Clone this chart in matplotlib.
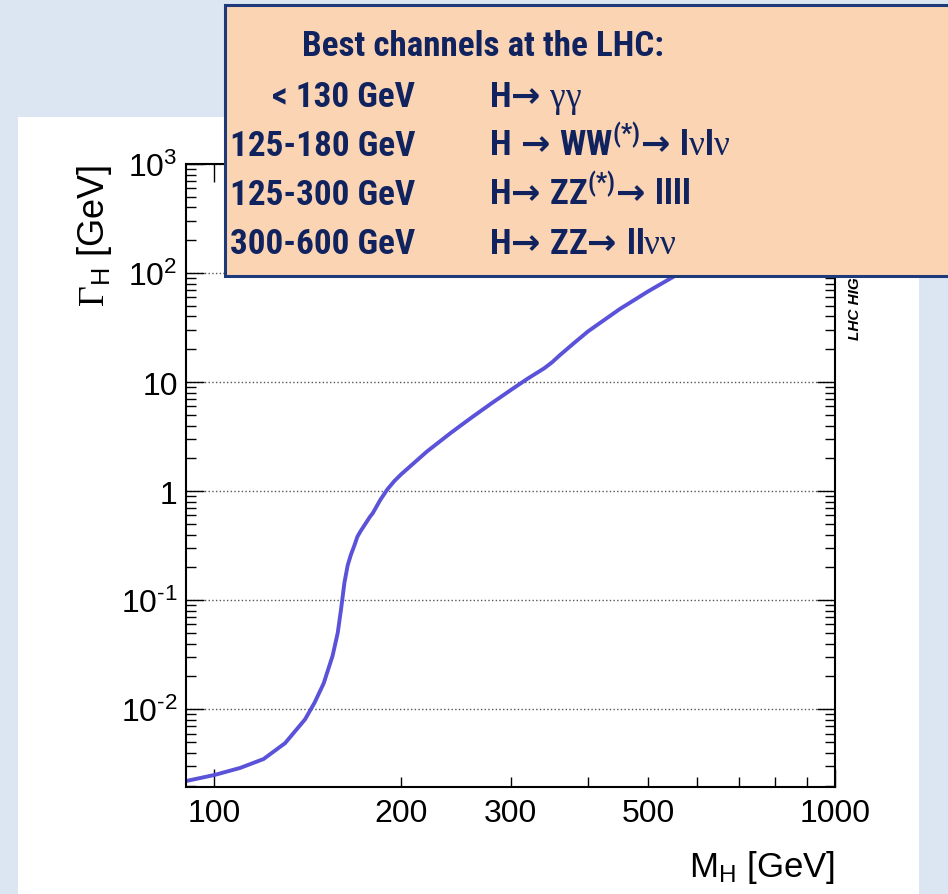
import matplotlib
matplotlib.use("Agg")
import matplotlib.pyplot as plt
from matplotlib import font_manager
from matplotlib.patches import Rectangle
from matplotlib.ticker import FixedLocator, FuncFormatter, LogLocator, NullFormatter

mass = [90, 100, 110, 120, 130, 140, 145, 150, 155, 158, 160, 162, 164, 166, 168, 170,
        172, 175, 178, 180, 185, 190, 195, 200, 220, 240, 250, 260, 280, 300, 320, 340,
        350, 360, 380, 400, 450, 500, 550, 600, 650, 700, 750, 800, 850, 900, 950, 1000]
width = [2.2e-3, 2.5e-3, 2.9e-3, 3.5e-3, 4.9e-3, 8.1e-3, 1.15e-2, 1.73e-2, 3.08e-2, 5.0e-2,
         8.3e-2, 1.45e-1, 2.1e-1, 2.63e-1, 3.15e-1, 3.83e-1,
         0.43, 0.50, 0.58, 0.63, 0.83, 1.04, 1.24, 1.43, 2.31, 3.40, 4.04, 4.76, 6.43, 8.43,
         10.8, 13.4, 15.2, 17.6, 22.9, 29.2, 46.8, 68.0, 93.0, 123, 158, 199, 247, 304, 370,
         449, 540, 647]

x_major = [100, 1000]
x_minor = [200, 300, 400, 500, 600, 700, 800, 900]
x_minor_labels = {200: "200", 300: "300", 500: "500"}
y_labels = {1e-2: "$\\mathregular{10^{\u20102}}$", 1e-1: "$\\mathregular{10^{\u20101}}$",
            1: "1", 10: "10", 1e2: r"$\mathregular{10^{2}}$", 1e3: r"$\mathregular{10^{3}}$"}

box_title = "Best channels at the LHC:"
box_ranges = ["< 130 GeV", "125-180 GeV", "125-300 GeV", "300-600 GeV"]
box_channels = [r"$\mathbf{H}\mathcal{→}\ \mathsf{\gamma\gamma}$",
                r"$\mathbf{H}\ \mathcal{→}\ \mathbf{WW^{(*)}}\mathcal{→}\ \mathbf{l}\mathsf{\nu}\mathbf{l}\mathsf{\nu}$",
                r"$\mathbf{H}\mathcal{→}\ \mathbf{ZZ^{(*)}}\mathcal{→}\ \mathbf{llll}$",
                r"$\mathbf{H}\mathcal{→}\ \mathbf{ZZ}\mathcal{→}\ \mathbf{ll}\mathsf{\nu\nu}$"]

# a narrow bold face for the box, like the Arial Narrow of the slide
bold_faces = {f.name for f in font_manager.fontManager.ttflist
              if f.weight in (700, "bold") and f.style == "normal"}
box_font = "Liberation Sans"
for cand in ["Liberation Sans Narrow", "Roboto Condensed", "PT Sans Narrow",
             "Open Sans Condensed", "Asap Condensed", "Barlow Semi Condensed"]:
    if cand in bold_faces:
        box_font = cand
        break

plt.rcParams["font.family"] = ["Liberation Sans", "DejaVu Sans"]
plt.rcParams["mathtext.fontset"] = "custom"
plt.rcParams["mathtext.rm"] = "Liberation Sans"
plt.rcParams["mathtext.it"] = "Liberation Sans:italic"
plt.rcParams["mathtext.bf"] = box_font + ":bold"
plt.rcParams["mathtext.sf"] = "Liberation Serif"
plt.rcParams["mathtext.cal"] = "DejaVu Sans:bold"

W, H = 948, 895
fig = plt.figure(figsize=(W / 100, H / 100), dpi=100, facecolor="#dce6f2")

# white panel behind the plot
fig.patches.append(Rectangle((18 / W, 0), (919 - 18) / W, 1 - 118 / H,
                             transform=fig.transFigure, facecolor="white",
                             edgecolor="none", zorder=-1))

ax = fig.add_axes([186 / W, 107 / H, (835 - 186) / W, (788 - 165) / H])
ax.set_facecolor("white")
ax.plot(mass, width, color="#5a52d8", lw=2.8)
ax.set_xscale("log")
ax.set_yscale("log")
ax.set_xlim(90, 1000)
ax.set_ylim(1.94e-3, 1e3)

ax.xaxis.set_major_locator(FixedLocator(x_major))
ax.xaxis.set_minor_locator(FixedLocator(x_minor))
ax.xaxis.set_major_formatter(FuncFormatter(lambda v, p: "%d" % round(v)))
ax.xaxis.set_minor_formatter(FuncFormatter(lambda v, p: x_minor_labels.get(int(round(v)), "")))
ax.yaxis.set_major_locator(LogLocator(base=10, numticks=20))
ax.yaxis.set_minor_locator(LogLocator(base=10, subs=range(2, 10), numticks=20))
ax.yaxis.set_major_formatter(FuncFormatter(
    lambda v, p: min(y_labels.items(), key=lambda kv: abs(kv[0] / v - 1))[1]))
ax.yaxis.set_minor_formatter(NullFormatter())

ax.tick_params(which="both", direction="in", top=True, right=True, width=1,
               labelsize=23, colors="black")
ax.tick_params(which="major", length=13)
ax.tick_params(which="minor", length=7)
ax.tick_params(axis="x", which="both", pad=8)
ax.tick_params(axis="y", which="both", pad=6)
for s in ax.spines.values():
    s.set_linewidth(1.5)

ax.grid(True, which="major", axis="y", linestyle=":", color="#555555", lw=1)

ax.set_xlabel(r"M$_\mathrm{H}$ [GeV]", fontsize=25, loc="right", labelpad=14)
ax.set_ylabel(r"$\mathsf{\Gamma}_\mathrm{H}$ [GeV]", fontsize=26, loc="top", labelpad=5)

fig.text(855 / W, 1 - 340 / H, "LHC HIGGS XS WG 2010", rotation=90, ha="center",
         va="bottom", fontsize=11, style="italic", weight="bold", zorder=1)

# orange info box on top
fig.patches.append(Rectangle((225 / W, 1 - 277 / H), 0.9, (277 - 6) / H,
                             transform=fig.transFigure, facecolor="#fbd4b4",
                             edgecolor="#1f3a7a", lw=2.2, zorder=10))
navy = "#10235f"
box_texts = []
t = fig.text(483 / W, 1 - 56 / H, box_title, ha="center", va="baseline", fontsize=20,
             family=box_font, weight="bold", color=navy, zorder=11)
box_texts.append(t)
baselines = [107, 156, 205, 254]
for rng, ch, yb in zip(box_ranges, box_channels, baselines):
    box_texts.append(fig.text(415 / W, 1 - yb / H, rng, ha="right", va="baseline",
                              fontsize=20, family=box_font, weight="bold", color=navy,
                              zorder=11))
    box_texts.append(fig.text(489 / W, 1 - yb / H, ch, ha="left", va="baseline",
                              fontsize=20, color=navy, zorder=11))

# size the box text so the title is as wide as in the slide (~362 px)
renderer = fig.canvas.get_renderer()
tw = t.get_window_extent(renderer).width
size = min(20 * 362 / tw, 28)
for bt in box_texts:
    bt.set_fontsize(size)

fig.savefig("out.png", dpi=100, facecolor=fig.get_facecolor())
